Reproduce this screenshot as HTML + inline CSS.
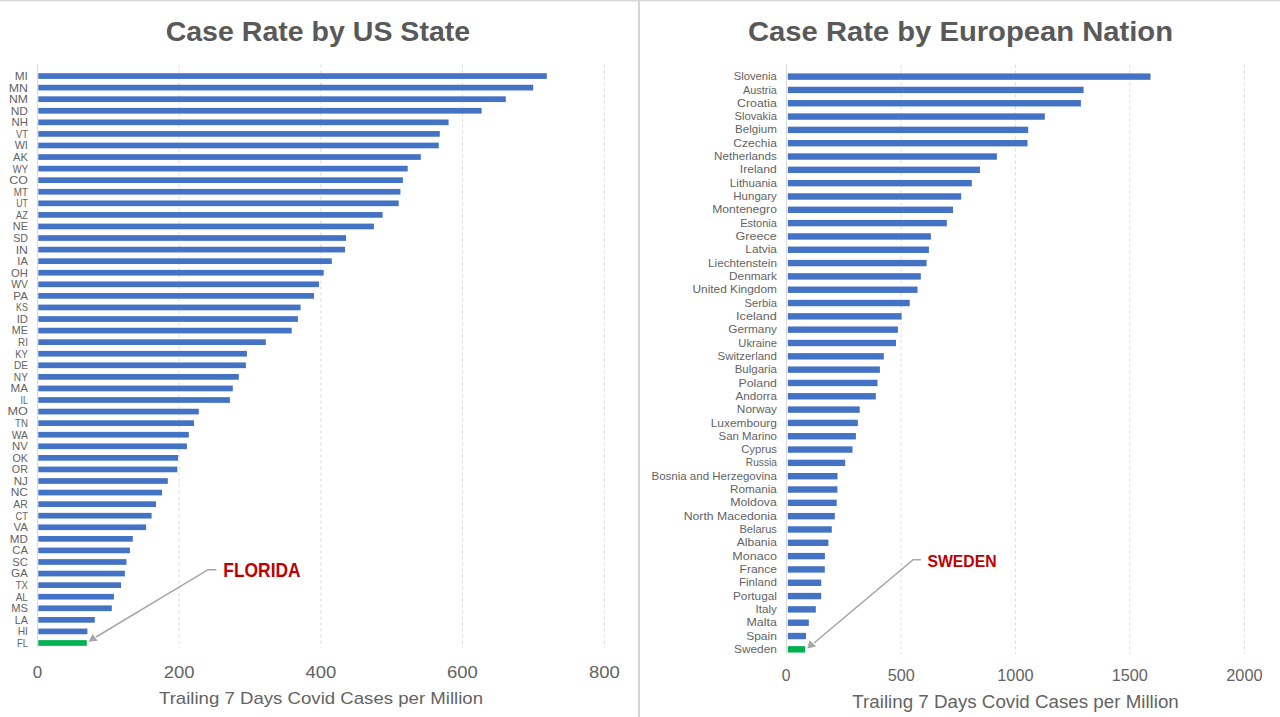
<!DOCTYPE html><html><head><meta charset="utf-8"><title>Case Rate by US State and European Nation</title>
<style>html,body{margin:0;padding:0;background:#fff;}body{width:1280px;height:717px;overflow:hidden;}svg{display:block;}text{font-family:"Liberation Sans", Arial, sans-serif;}</style></head><body>
<svg width="1280" height="717" viewBox="0 0 1280 717">
<rect x="0" y="0" width="1280" height="717" fill="#ffffff"/>
<rect x="0" y="0" width="1280" height="1" fill="#D9D9D9"/>
<rect x="0" y="1" width="1280" height="1" fill="#F0F0F0"/>
<rect x="638" y="0" width="2" height="717" fill="#D4D4D4"/>
<line x1="179.1" y1="64.5" x2="179.1" y2="647.5" stroke="#DADADA" stroke-width="1" stroke-dasharray="3,3"/>
<line x1="320.8" y1="64.5" x2="320.8" y2="647.5" stroke="#DADADA" stroke-width="1" stroke-dasharray="3,3"/>
<line x1="462.4" y1="64.5" x2="462.4" y2="647.5" stroke="#DADADA" stroke-width="1" stroke-dasharray="3,3"/>
<line x1="604.4" y1="64.5" x2="604.4" y2="647.5" stroke="#DADADA" stroke-width="1" stroke-dasharray="3,3"/>
<line x1="37.5" y1="64.5" x2="37.5" y2="647.5" stroke="#DADADA" stroke-width="1"/>
<text x="317.9" y="40.9" text-anchor="middle" font-size="28" font-weight="bold" fill="#595959" textLength="304.5" lengthAdjust="spacingAndGlyphs">Case Rate by US State</text>
<rect x="38.3" y="73.20" width="508.50" height="5.7" fill="#4472C4"/>
<text x="27.9" y="79.95" text-anchor="end" font-size="11" fill="#636363" textLength="13.18" lengthAdjust="spacingAndGlyphs">MI</text>
<rect x="38.3" y="84.77" width="494.90" height="5.7" fill="#4472C4"/>
<text x="27.9" y="91.52" text-anchor="end" font-size="11" fill="#636363" textLength="19.16" lengthAdjust="spacingAndGlyphs">MN</text>
<rect x="38.3" y="96.34" width="467.50" height="5.7" fill="#4472C4"/>
<text x="27.9" y="103.09" text-anchor="end" font-size="11" fill="#636363" textLength="18.96" lengthAdjust="spacingAndGlyphs">NM</text>
<rect x="38.3" y="107.91" width="443.30" height="5.7" fill="#4472C4"/>
<text x="27.9" y="114.66" text-anchor="end" font-size="11" fill="#636363" textLength="17.24" lengthAdjust="spacingAndGlyphs">ND</text>
<rect x="38.3" y="119.48" width="410.30" height="5.7" fill="#4472C4"/>
<text x="27.9" y="126.23" text-anchor="end" font-size="11" fill="#636363" textLength="16.44" lengthAdjust="spacingAndGlyphs">NH</text>
<rect x="38.3" y="131.05" width="401.50" height="5.7" fill="#4472C4"/>
<text x="27.9" y="137.80" text-anchor="end" font-size="11" fill="#636363" textLength="12.01" lengthAdjust="spacingAndGlyphs">VT</text>
<rect x="38.3" y="142.62" width="400.50" height="5.7" fill="#4472C4"/>
<text x="27.9" y="149.37" text-anchor="end" font-size="11" fill="#636363" textLength="13.20" lengthAdjust="spacingAndGlyphs">WI</text>
<rect x="38.3" y="154.19" width="382.50" height="5.7" fill="#4472C4"/>
<text x="27.9" y="160.94" text-anchor="end" font-size="11" fill="#636363" textLength="14.94" lengthAdjust="spacingAndGlyphs">AK</text>
<rect x="38.3" y="165.76" width="369.40" height="5.7" fill="#4472C4"/>
<text x="27.9" y="172.51" text-anchor="end" font-size="11" fill="#636363" textLength="15.08" lengthAdjust="spacingAndGlyphs">WY</text>
<rect x="38.3" y="177.33" width="364.60" height="5.7" fill="#4472C4"/>
<text x="27.9" y="184.08" text-anchor="end" font-size="11" fill="#636363" textLength="18.55" lengthAdjust="spacingAndGlyphs">CO</text>
<rect x="38.3" y="188.90" width="362.10" height="5.7" fill="#4472C4"/>
<text x="27.9" y="195.65" text-anchor="end" font-size="11" fill="#636363" textLength="14.14" lengthAdjust="spacingAndGlyphs">MT</text>
<rect x="38.3" y="200.47" width="360.40" height="5.7" fill="#4472C4"/>
<text x="27.9" y="207.22" text-anchor="end" font-size="11" fill="#636363" textLength="11.62" lengthAdjust="spacingAndGlyphs">UT</text>
<rect x="38.3" y="212.04" width="344.30" height="5.7" fill="#4472C4"/>
<text x="27.9" y="218.79" text-anchor="end" font-size="11" fill="#636363" textLength="11.81" lengthAdjust="spacingAndGlyphs">AZ</text>
<rect x="38.3" y="223.61" width="335.60" height="5.7" fill="#4472C4"/>
<text x="27.9" y="230.36" text-anchor="end" font-size="11" fill="#636363" textLength="15.03" lengthAdjust="spacingAndGlyphs">NE</text>
<rect x="38.3" y="235.18" width="307.70" height="5.7" fill="#4472C4"/>
<text x="27.9" y="241.93" text-anchor="end" font-size="11" fill="#636363" textLength="14.73" lengthAdjust="spacingAndGlyphs">SD</text>
<rect x="38.3" y="246.75" width="306.70" height="5.7" fill="#4472C4"/>
<text x="27.9" y="253.50" text-anchor="end" font-size="11" fill="#636363" textLength="12.25" lengthAdjust="spacingAndGlyphs">IN</text>
<rect x="38.3" y="258.32" width="293.50" height="5.7" fill="#4472C4"/>
<text x="27.9" y="265.07" text-anchor="end" font-size="11" fill="#636363" textLength="10.56" lengthAdjust="spacingAndGlyphs">IA</text>
<rect x="38.3" y="269.89" width="285.40" height="5.7" fill="#4472C4"/>
<text x="27.9" y="276.64" text-anchor="end" font-size="11" fill="#636363" textLength="16.85" lengthAdjust="spacingAndGlyphs">OH</text>
<rect x="38.3" y="281.46" width="280.70" height="5.7" fill="#4472C4"/>
<text x="27.9" y="288.21" text-anchor="end" font-size="11" fill="#636363" textLength="16.68" lengthAdjust="spacingAndGlyphs">WV</text>
<rect x="38.3" y="293.03" width="275.70" height="5.7" fill="#4472C4"/>
<text x="27.9" y="299.78" text-anchor="end" font-size="11" fill="#636363" textLength="14.51" lengthAdjust="spacingAndGlyphs">PA</text>
<rect x="38.3" y="304.60" width="262.30" height="5.7" fill="#4472C4"/>
<text x="27.9" y="311.35" text-anchor="end" font-size="11" fill="#636363" textLength="11.84" lengthAdjust="spacingAndGlyphs">KS</text>
<rect x="38.3" y="316.17" width="259.60" height="5.7" fill="#4472C4"/>
<text x="27.9" y="322.92" text-anchor="end" font-size="11" fill="#636363" textLength="11.25" lengthAdjust="spacingAndGlyphs">ID</text>
<rect x="38.3" y="327.74" width="253.40" height="5.7" fill="#4472C4"/>
<text x="27.9" y="334.49" text-anchor="end" font-size="11" fill="#636363" textLength="16.05" lengthAdjust="spacingAndGlyphs">ME</text>
<rect x="38.3" y="339.31" width="227.50" height="5.7" fill="#4472C4"/>
<text x="27.9" y="346.06" text-anchor="end" font-size="11" fill="#636363" textLength="9.85" lengthAdjust="spacingAndGlyphs">RI</text>
<rect x="38.3" y="350.88" width="208.60" height="5.7" fill="#4472C4"/>
<text x="27.9" y="357.63" text-anchor="end" font-size="11" fill="#636363" textLength="12.64" lengthAdjust="spacingAndGlyphs">KY</text>
<rect x="38.3" y="362.45" width="207.60" height="5.7" fill="#4472C4"/>
<text x="27.9" y="369.20" text-anchor="end" font-size="11" fill="#636363" textLength="13.93" lengthAdjust="spacingAndGlyphs">DE</text>
<rect x="38.3" y="374.02" width="200.50" height="5.7" fill="#4472C4"/>
<text x="27.9" y="380.77" text-anchor="end" font-size="11" fill="#636363" textLength="14.03" lengthAdjust="spacingAndGlyphs">NY</text>
<rect x="38.3" y="385.59" width="194.50" height="5.7" fill="#4472C4"/>
<text x="27.9" y="392.34" text-anchor="end" font-size="11" fill="#636363" textLength="17.45" lengthAdjust="spacingAndGlyphs">MA</text>
<rect x="38.3" y="397.16" width="191.60" height="5.7" fill="#4472C4"/>
<text x="27.9" y="403.91" text-anchor="end" font-size="11" fill="#636363" textLength="7.44" lengthAdjust="spacingAndGlyphs">IL</text>
<rect x="38.3" y="408.73" width="160.50" height="5.7" fill="#4472C4"/>
<text x="27.9" y="415.48" text-anchor="end" font-size="11" fill="#636363" textLength="20.38" lengthAdjust="spacingAndGlyphs">MO</text>
<rect x="38.3" y="420.30" width="155.70" height="5.7" fill="#4472C4"/>
<text x="27.9" y="427.05" text-anchor="end" font-size="11" fill="#636363" textLength="12.82" lengthAdjust="spacingAndGlyphs">TN</text>
<rect x="38.3" y="431.87" width="150.50" height="5.7" fill="#4472C4"/>
<text x="27.9" y="438.62" text-anchor="end" font-size="11" fill="#636363" textLength="16.26" lengthAdjust="spacingAndGlyphs">WA</text>
<rect x="38.3" y="443.44" width="148.60" height="5.7" fill="#4472C4"/>
<text x="27.9" y="450.19" text-anchor="end" font-size="11" fill="#636363" textLength="15.83" lengthAdjust="spacingAndGlyphs">NV</text>
<rect x="38.3" y="455.01" width="139.80" height="5.7" fill="#4472C4"/>
<text x="27.9" y="461.76" text-anchor="end" font-size="11" fill="#636363" textLength="15.46" lengthAdjust="spacingAndGlyphs">OK</text>
<rect x="38.3" y="466.58" width="139.00" height="5.7" fill="#4472C4"/>
<text x="27.9" y="473.33" text-anchor="end" font-size="11" fill="#636363" textLength="16.05" lengthAdjust="spacingAndGlyphs">OR</text>
<rect x="38.3" y="478.15" width="129.50" height="5.7" fill="#4472C4"/>
<text x="27.9" y="484.90" text-anchor="end" font-size="11" fill="#636363" textLength="14.10" lengthAdjust="spacingAndGlyphs">NJ</text>
<rect x="38.3" y="489.72" width="123.70" height="5.7" fill="#4472C4"/>
<text x="27.9" y="496.47" text-anchor="end" font-size="11" fill="#636363" textLength="17.24" lengthAdjust="spacingAndGlyphs">NC</text>
<rect x="38.3" y="501.29" width="117.70" height="5.7" fill="#4472C4"/>
<text x="27.9" y="508.04" text-anchor="end" font-size="11" fill="#636363" textLength="14.53" lengthAdjust="spacingAndGlyphs">AR</text>
<rect x="38.3" y="512.86" width="113.30" height="5.7" fill="#4472C4"/>
<text x="27.9" y="519.61" text-anchor="end" font-size="11" fill="#636363" textLength="12.42" lengthAdjust="spacingAndGlyphs">CT</text>
<rect x="38.3" y="524.43" width="107.80" height="5.7" fill="#4472C4"/>
<text x="27.9" y="531.18" text-anchor="end" font-size="11" fill="#636363" textLength="14.41" lengthAdjust="spacingAndGlyphs">VA</text>
<rect x="38.3" y="536.00" width="94.50" height="5.7" fill="#4472C4"/>
<text x="27.9" y="542.75" text-anchor="end" font-size="11" fill="#636363" textLength="18.06" lengthAdjust="spacingAndGlyphs">MD</text>
<rect x="38.3" y="547.57" width="91.60" height="5.7" fill="#4472C4"/>
<text x="27.9" y="554.32" text-anchor="end" font-size="11" fill="#636363" textLength="15.63" lengthAdjust="spacingAndGlyphs">CA</text>
<rect x="38.3" y="559.14" width="88.20" height="5.7" fill="#4472C4"/>
<text x="27.9" y="565.89" text-anchor="end" font-size="11" fill="#636363" textLength="15.53" lengthAdjust="spacingAndGlyphs">SC</text>
<rect x="38.3" y="570.71" width="86.60" height="5.7" fill="#4472C4"/>
<text x="27.9" y="577.46" text-anchor="end" font-size="11" fill="#636363" textLength="16.86" lengthAdjust="spacingAndGlyphs">GA</text>
<rect x="38.3" y="582.28" width="82.70" height="5.7" fill="#4472C4"/>
<text x="27.9" y="589.03" text-anchor="end" font-size="11" fill="#636363" textLength="12.21" lengthAdjust="spacingAndGlyphs">TX</text>
<rect x="38.3" y="593.85" width="75.60" height="5.7" fill="#4472C4"/>
<text x="27.9" y="600.60" text-anchor="end" font-size="11" fill="#636363" textLength="12.22" lengthAdjust="spacingAndGlyphs">AL</text>
<rect x="38.3" y="605.42" width="73.50" height="5.7" fill="#4472C4"/>
<text x="27.9" y="612.17" text-anchor="end" font-size="11" fill="#636363" textLength="16.75" lengthAdjust="spacingAndGlyphs">MS</text>
<rect x="38.3" y="616.99" width="56.50" height="5.7" fill="#4472C4"/>
<text x="27.9" y="623.74" text-anchor="end" font-size="11" fill="#636363" textLength="13.12" lengthAdjust="spacingAndGlyphs">LA</text>
<rect x="38.3" y="628.56" width="49.10" height="5.7" fill="#4472C4"/>
<text x="27.9" y="635.31" text-anchor="end" font-size="11" fill="#636363" textLength="10.25" lengthAdjust="spacingAndGlyphs">HI</text>
<rect x="38.3" y="640.13" width="48.50" height="5.7" fill="#00B050"/>
<text x="27.9" y="646.88" text-anchor="end" font-size="11" fill="#636363" textLength="10.89" lengthAdjust="spacingAndGlyphs">FL</text>
<text x="37.5" y="677.8" text-anchor="middle" font-size="17" fill="#636363">0</text>
<text x="179.1" y="677.8" text-anchor="middle" font-size="17" fill="#636363" textLength="30.8" lengthAdjust="spacingAndGlyphs">200</text>
<text x="320.8" y="677.8" text-anchor="middle" font-size="17" fill="#636363" textLength="30.8" lengthAdjust="spacingAndGlyphs">400</text>
<text x="462.4" y="677.8" text-anchor="middle" font-size="17" fill="#636363" textLength="30.8" lengthAdjust="spacingAndGlyphs">600</text>
<text x="604.4" y="677.8" text-anchor="middle" font-size="17" fill="#636363" textLength="30.8" lengthAdjust="spacingAndGlyphs">800</text>
<text x="159" y="704.4" font-size="17" fill="#636363" textLength="324" lengthAdjust="spacingAndGlyphs">Trailing 7 Days Covid Cases per Million</text>
<polyline points="216.4,569.7 208.1,569.7 96,637" fill="none" stroke="#A5A5A5" stroke-width="1.5"/>
<polygon points="88.5,641.8 92.6,634.0 97.6,640.8" fill="#A5A5A5"/>
<text x="223.3" y="577.4" font-size="19.3" font-weight="bold" fill="#C00000" textLength="77.3" lengthAdjust="spacingAndGlyphs">FLORIDA</text>
<line x1="901.2" y1="64.5" x2="901.2" y2="654" stroke="#DADADA" stroke-width="1" stroke-dasharray="3,3"/>
<line x1="1015.4" y1="64.5" x2="1015.4" y2="654" stroke="#DADADA" stroke-width="1" stroke-dasharray="3,3"/>
<line x1="1129.8" y1="64.5" x2="1129.8" y2="654" stroke="#DADADA" stroke-width="1" stroke-dasharray="3,3"/>
<line x1="1244.4" y1="64.5" x2="1244.4" y2="654" stroke="#DADADA" stroke-width="1" stroke-dasharray="3,3"/>
<line x1="786.5" y1="64.5" x2="786.5" y2="654" stroke="#DADADA" stroke-width="1"/>
<text x="960.5" y="40.9" text-anchor="middle" font-size="28" font-weight="bold" fill="#595959" textLength="425" lengthAdjust="spacingAndGlyphs">Case Rate by European Nation</text>
<rect x="787.8" y="73.40" width="362.70" height="6.4" fill="#4472C4"/>
<text x="776.9" y="80.20" text-anchor="end" font-size="11.2" fill="#636363" textLength="43.22" lengthAdjust="spacingAndGlyphs">Slovenia</text>
<rect x="787.8" y="86.72" width="295.80" height="6.4" fill="#4472C4"/>
<text x="776.9" y="93.52" text-anchor="end" font-size="11.2" fill="#636363" textLength="33.83" lengthAdjust="spacingAndGlyphs">Austria</text>
<rect x="787.8" y="100.04" width="293.10" height="6.4" fill="#4472C4"/>
<text x="776.9" y="106.84" text-anchor="end" font-size="11.2" fill="#636363" textLength="39.78" lengthAdjust="spacingAndGlyphs">Croatia</text>
<rect x="787.8" y="113.36" width="257.00" height="6.4" fill="#4472C4"/>
<text x="776.9" y="120.16" text-anchor="end" font-size="11.2" fill="#636363" textLength="42.50" lengthAdjust="spacingAndGlyphs">Slovakia</text>
<rect x="787.8" y="126.68" width="240.40" height="6.4" fill="#4472C4"/>
<text x="776.9" y="133.48" text-anchor="end" font-size="11.2" fill="#636363" textLength="41.92" lengthAdjust="spacingAndGlyphs">Belgium</text>
<rect x="787.8" y="140.00" width="239.70" height="6.4" fill="#4472C4"/>
<text x="776.9" y="146.80" text-anchor="end" font-size="11.2" fill="#636363" textLength="43.52" lengthAdjust="spacingAndGlyphs">Czechia</text>
<rect x="787.8" y="153.32" width="209.10" height="6.4" fill="#4472C4"/>
<text x="776.9" y="160.12" text-anchor="end" font-size="11.2" fill="#636363" textLength="62.83" lengthAdjust="spacingAndGlyphs">Netherlands</text>
<rect x="787.8" y="166.64" width="192.20" height="6.4" fill="#4472C4"/>
<text x="776.9" y="173.44" text-anchor="end" font-size="11.2" fill="#636363" textLength="37.12" lengthAdjust="spacingAndGlyphs">Ireland</text>
<rect x="787.8" y="179.96" width="184.00" height="6.4" fill="#4472C4"/>
<text x="776.9" y="186.76" text-anchor="end" font-size="11.2" fill="#636363" textLength="47.02" lengthAdjust="spacingAndGlyphs">Lithuania</text>
<rect x="787.8" y="193.28" width="173.40" height="6.4" fill="#4472C4"/>
<text x="776.9" y="200.08" text-anchor="end" font-size="11.2" fill="#636363" textLength="43.60" lengthAdjust="spacingAndGlyphs">Hungary</text>
<rect x="787.8" y="206.60" width="165.20" height="6.4" fill="#4472C4"/>
<text x="776.9" y="213.40" text-anchor="end" font-size="11.2" fill="#636363" textLength="64.72" lengthAdjust="spacingAndGlyphs">Montenegro</text>
<rect x="787.8" y="219.92" width="159.00" height="6.4" fill="#4472C4"/>
<text x="776.9" y="226.72" text-anchor="end" font-size="11.2" fill="#636363" textLength="36.73" lengthAdjust="spacingAndGlyphs">Estonia</text>
<rect x="787.8" y="233.24" width="143.10" height="6.4" fill="#4472C4"/>
<text x="776.9" y="240.04" text-anchor="end" font-size="11.2" fill="#636363" textLength="41.39" lengthAdjust="spacingAndGlyphs">Greece</text>
<rect x="787.8" y="246.56" width="141.10" height="6.4" fill="#4472C4"/>
<text x="776.9" y="253.36" text-anchor="end" font-size="11.2" fill="#636363" textLength="31.56" lengthAdjust="spacingAndGlyphs">Latvia</text>
<rect x="787.8" y="259.88" width="138.80" height="6.4" fill="#4472C4"/>
<text x="776.9" y="266.68" text-anchor="end" font-size="11.2" fill="#636363" textLength="68.84" lengthAdjust="spacingAndGlyphs">Liechtenstein</text>
<rect x="787.8" y="273.20" width="133.00" height="6.4" fill="#4472C4"/>
<text x="776.9" y="280.00" text-anchor="end" font-size="11.2" fill="#636363" textLength="47.79" lengthAdjust="spacingAndGlyphs">Denmark</text>
<rect x="787.8" y="286.52" width="129.70" height="6.4" fill="#4472C4"/>
<text x="776.9" y="293.32" text-anchor="end" font-size="11.2" fill="#636363" textLength="84.41" lengthAdjust="spacingAndGlyphs">United Kingdom</text>
<rect x="787.8" y="299.84" width="121.90" height="6.4" fill="#4472C4"/>
<text x="776.9" y="306.64" text-anchor="end" font-size="11.2" fill="#636363" textLength="32.34" lengthAdjust="spacingAndGlyphs">Serbia</text>
<rect x="787.8" y="313.16" width="113.80" height="6.4" fill="#4472C4"/>
<text x="776.9" y="319.96" text-anchor="end" font-size="11.2" fill="#636363" textLength="40.78" lengthAdjust="spacingAndGlyphs">Iceland</text>
<rect x="787.8" y="326.48" width="110.10" height="6.4" fill="#4472C4"/>
<text x="776.9" y="333.28" text-anchor="end" font-size="11.2" fill="#636363" textLength="48.52" lengthAdjust="spacingAndGlyphs">Germany</text>
<rect x="787.8" y="339.80" width="108.20" height="6.4" fill="#4472C4"/>
<text x="776.9" y="346.60" text-anchor="end" font-size="11.2" fill="#636363" textLength="38.56" lengthAdjust="spacingAndGlyphs">Ukraine</text>
<rect x="787.8" y="353.12" width="96.00" height="6.4" fill="#4472C4"/>
<text x="776.9" y="359.92" text-anchor="end" font-size="11.2" fill="#636363" textLength="59.33" lengthAdjust="spacingAndGlyphs">Switzerland</text>
<rect x="787.8" y="366.44" width="92.10" height="6.4" fill="#4472C4"/>
<text x="776.9" y="373.24" text-anchor="end" font-size="11.2" fill="#636363" textLength="42.25" lengthAdjust="spacingAndGlyphs">Bulgaria</text>
<rect x="787.8" y="379.76" width="89.70" height="6.4" fill="#4472C4"/>
<text x="776.9" y="386.56" text-anchor="end" font-size="11.2" fill="#636363" textLength="38.44" lengthAdjust="spacingAndGlyphs">Poland</text>
<rect x="787.8" y="393.08" width="88.00" height="6.4" fill="#4472C4"/>
<text x="776.9" y="399.88" text-anchor="end" font-size="11.2" fill="#636363" textLength="41.31" lengthAdjust="spacingAndGlyphs">Andorra</text>
<rect x="787.8" y="406.40" width="71.90" height="6.4" fill="#4472C4"/>
<text x="776.9" y="413.20" text-anchor="end" font-size="11.2" fill="#636363" textLength="40.02" lengthAdjust="spacingAndGlyphs">Norway</text>
<rect x="787.8" y="419.72" width="70.00" height="6.4" fill="#4472C4"/>
<text x="776.9" y="426.52" text-anchor="end" font-size="11.2" fill="#636363" textLength="66.20" lengthAdjust="spacingAndGlyphs">Luxembourg</text>
<rect x="787.8" y="433.04" width="68.10" height="6.4" fill="#4472C4"/>
<text x="776.9" y="439.84" text-anchor="end" font-size="11.2" fill="#636363" textLength="58.32" lengthAdjust="spacingAndGlyphs">San Marino</text>
<rect x="787.8" y="446.36" width="64.70" height="6.4" fill="#4472C4"/>
<text x="776.9" y="453.16" text-anchor="end" font-size="11.2" fill="#636363" textLength="35.74" lengthAdjust="spacingAndGlyphs">Cyprus</text>
<rect x="787.8" y="459.68" width="57.40" height="6.4" fill="#4472C4"/>
<text x="776.9" y="466.48" text-anchor="end" font-size="11.2" fill="#636363" textLength="31.10" lengthAdjust="spacingAndGlyphs">Russia</text>
<rect x="787.8" y="473.00" width="49.70" height="6.4" fill="#4472C4"/>
<text x="776.9" y="479.80" text-anchor="end" font-size="11.2" fill="#636363" textLength="125.41" lengthAdjust="spacingAndGlyphs">Bosnia and Herzegovina</text>
<rect x="787.8" y="486.32" width="49.60" height="6.4" fill="#4472C4"/>
<text x="776.9" y="493.12" text-anchor="end" font-size="11.2" fill="#636363" textLength="46.98" lengthAdjust="spacingAndGlyphs">Romania</text>
<rect x="787.8" y="499.64" width="48.90" height="6.4" fill="#4472C4"/>
<text x="776.9" y="506.44" text-anchor="end" font-size="11.2" fill="#636363" textLength="46.75" lengthAdjust="spacingAndGlyphs">Moldova</text>
<rect x="787.8" y="512.96" width="47.00" height="6.4" fill="#4472C4"/>
<text x="776.9" y="519.76" text-anchor="end" font-size="11.2" fill="#636363" textLength="93.20" lengthAdjust="spacingAndGlyphs">North Macedonia</text>
<rect x="787.8" y="526.28" width="44.00" height="6.4" fill="#4472C4"/>
<text x="776.9" y="533.08" text-anchor="end" font-size="11.2" fill="#636363" textLength="37.44" lengthAdjust="spacingAndGlyphs">Belarus</text>
<rect x="787.8" y="539.60" width="40.60" height="6.4" fill="#4472C4"/>
<text x="776.9" y="546.40" text-anchor="end" font-size="11.2" fill="#636363" textLength="40.03" lengthAdjust="spacingAndGlyphs">Albania</text>
<rect x="787.8" y="552.92" width="37.10" height="6.4" fill="#4472C4"/>
<text x="776.9" y="559.72" text-anchor="end" font-size="11.2" fill="#636363" textLength="44.51" lengthAdjust="spacingAndGlyphs">Monaco</text>
<rect x="787.8" y="566.24" width="37.00" height="6.4" fill="#4472C4"/>
<text x="776.9" y="573.04" text-anchor="end" font-size="11.2" fill="#636363" textLength="37.33" lengthAdjust="spacingAndGlyphs">France</text>
<rect x="787.8" y="579.56" width="33.40" height="6.4" fill="#4472C4"/>
<text x="776.9" y="586.36" text-anchor="end" font-size="11.2" fill="#636363" textLength="37.90" lengthAdjust="spacingAndGlyphs">Finland</text>
<rect x="787.8" y="592.88" width="33.40" height="6.4" fill="#4472C4"/>
<text x="776.9" y="599.68" text-anchor="end" font-size="11.2" fill="#636363" textLength="43.87" lengthAdjust="spacingAndGlyphs">Portugal</text>
<rect x="787.8" y="606.20" width="28.00" height="6.4" fill="#4472C4"/>
<text x="776.9" y="613.00" text-anchor="end" font-size="11.2" fill="#636363" textLength="21.33" lengthAdjust="spacingAndGlyphs">Italy</text>
<rect x="787.8" y="619.52" width="21.00" height="6.4" fill="#4472C4"/>
<text x="776.9" y="626.32" text-anchor="end" font-size="11.2" fill="#636363" textLength="30.46" lengthAdjust="spacingAndGlyphs">Malta</text>
<rect x="787.8" y="632.84" width="18.20" height="6.4" fill="#4472C4"/>
<text x="776.9" y="639.64" text-anchor="end" font-size="11.2" fill="#636363" textLength="30.72" lengthAdjust="spacingAndGlyphs">Spain</text>
<rect x="787.8" y="646.16" width="17.30" height="6.4" fill="#00B050"/>
<text x="776.9" y="652.96" text-anchor="end" font-size="11.2" fill="#636363" textLength="42.94" lengthAdjust="spacingAndGlyphs">Sweden</text>
<text x="786.2" y="681" text-anchor="middle" font-size="15.6" fill="#636363">0</text>
<text x="901.2" y="681" text-anchor="middle" font-size="15.6" fill="#636363" textLength="27" lengthAdjust="spacingAndGlyphs">500</text>
<text x="1015.4" y="681" text-anchor="middle" font-size="15.6" fill="#636363" textLength="36.3" lengthAdjust="spacingAndGlyphs">1000</text>
<text x="1129.8" y="681" text-anchor="middle" font-size="15.6" fill="#636363" textLength="36.3" lengthAdjust="spacingAndGlyphs">1500</text>
<text x="1244.4" y="681" text-anchor="middle" font-size="15.6" fill="#636363" textLength="36.3" lengthAdjust="spacingAndGlyphs">2000</text>
<text x="852.3" y="708.1" font-size="17.5" fill="#636363" textLength="326.5" lengthAdjust="spacingAndGlyphs">Trailing 7 Days Covid Cases per Million</text>
<polyline points="920.8,559.7 913.1,559.7 814,643" fill="none" stroke="#A5A5A5" stroke-width="1.5"/>
<polygon points="807.3,648.5 809.5,640.2 816.2,646.4" fill="#A5A5A5"/>
<text x="927.4" y="566.9" font-size="16.5" font-weight="bold" fill="#C00000" textLength="69.2" lengthAdjust="spacingAndGlyphs">SWEDEN</text>
</svg></body></html>
